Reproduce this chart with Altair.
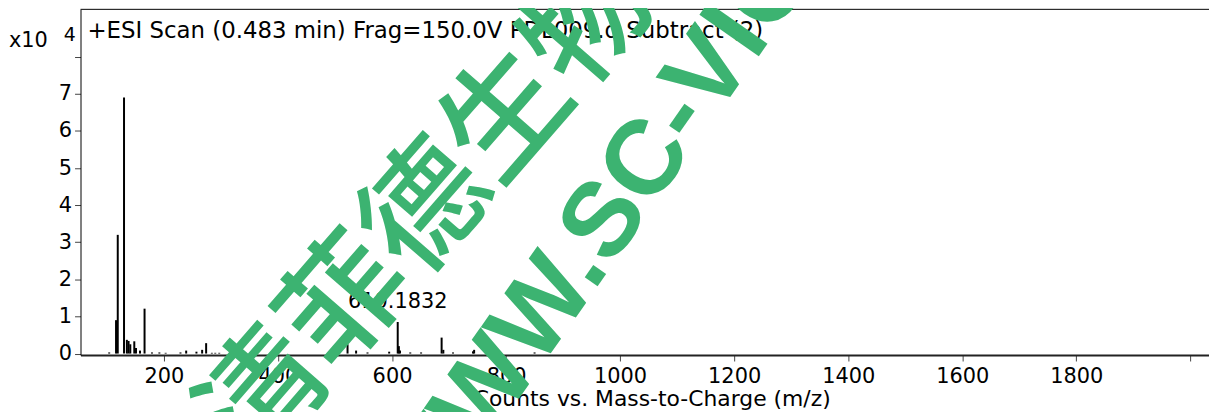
import altair as alt
import pandas as pd

# ---- data (m/z, counts x10^4) ----
mz = [104, 116, 119, 130, 135, 138, 141, 148, 151, 158, 166, 179, 192, 203,
      229, 239, 257, 267, 274, 284, 290, 297, 522, 537, 557, 595, 610, 612,
      614, 632, 651, 687, 690, 707, 742, 744, 778, 850]
counts = [0.03, 0.9, 3.2, 6.9, 0.37, 0.34, 0.25, 0.33, 0.15, 0.08, 1.21, 0.03,
          0.03, 0.02, 0.03, 0.08, 0.05, 0.1, 0.28, 0.02, 0.02, 0.02, 0.25, 0.08,
          0.03, 0.05, 0.85, 0.2, 0.08, 0.03, 0.03, 0.43, 0.1, 0.03, 0.06, 0.1,
          0.03, 0.03]

x_ticks = [200, 400, 600, 800, 1000, 1200, 1400, 1600, 1800, 2000]
y_ticks = [0, 1, 2, 3, 4, 5, 6, 7, 8]

ann_mz = [610]
ann_y = [1.4]
ann_text = ["610.1832"]

title_text = ["+ESI Scan (0.483 min) Frag=150.0V PDL009.d  Subtract (2)"]

wm_cn_text = ["清菲德生物"]
wm_cn_mz = [665]
wm_cn_y = [3.85]
wm_en_text = ["WWW.SC-VIO"]
wm_en_mz = [958]
wm_en_y = [3.25]

# ---- layout ----
W, H = 1136, 348
X_MIN, X_MAX = 53.7, 2032.8
Y_MIN, Y_MAX = -0.04, 9.28
FONT = "DejaVu Sans"
FS = 21
GREEN = "#3cb371"

x_scale = alt.Scale(domain=[X_MIN, X_MAX], nice=False, zero=False)
y_scale = alt.Scale(domain=[Y_MIN, Y_MAX], nice=False, zero=False)

peaks = pd.DataFrame({"mz": mz, "counts": counts})

bars = alt.Chart(peaks).mark_rule(color="black", strokeWidth=2).encode(
    x=alt.X("mz:Q", scale=x_scale,
            axis=alt.Axis(values=x_ticks, format="d",
                          labelExpr="datum.value >= 2000 ? '' : datum.label",
                          title="Counts vs. Mass-to-Charge (m/z)",
                          titleX=575, titlePadding=2, titleFontSize=22,
                          tickSize=6, labelPadding=5, grid=False,
                          domainColor="#222", domainWidth=2,
                          tickColor="#444")),
    y=alt.Y("counts:Q", scale=y_scale,
            axis=alt.Axis(values=y_ticks, format="d",
                          labelExpr="datum.value >= 8 ? '' : datum.label",
                          title=None, tickSize=6, labelPadding=3, grid=False,
                          domainColor="black", tickColor="#444")),
    y2=alt.datum(0),
)

ann = alt.Chart(pd.DataFrame({"mz": ann_mz, "y": ann_y, "t": ann_text})).mark_text(
    font=FONT, fontSize=FS, color="black", baseline="middle", align="center"
).encode(x=alt.X("mz:Q", scale=x_scale), y=alt.Y("y:Q", scale=y_scale), text="t:N")

title = alt.Chart(pd.DataFrame({"t": title_text})).mark_text(
    font=FONT, fontSize=23, color="black", baseline="middle", align="left"
).encode(x=alt.value(7), y=alt.value(22), text="t:N")

exp_base = alt.Chart(pd.DataFrame({"t": ["x10"]})).mark_text(
    font=FONT, fontSize=FS, color="black", baseline="middle", align="left"
).encode(x=alt.value(-72), y=alt.value(32), text="t:N")

exp_pow = alt.Chart(pd.DataFrame({"t": ["4"]})).mark_text(
    font=FONT, fontSize=19, color="black", baseline="middle", align="left"
).encode(x=alt.value(-17), y=alt.value(26), text="t:N")

top_border = alt.Chart(pd.DataFrame({"a": [0]})).mark_rule(color="black", strokeWidth=1).encode(
    x=alt.value(0), x2=alt.value(W), y=alt.value(0))

wm_cn = alt.Chart(pd.DataFrame({"mz": wm_cn_mz, "y": wm_cn_y, "t": wm_cn_text})).mark_text(
    font="Noto Sans CJK SC", fontSize=124, fontWeight=500, color=GREEN,
    angle=311, baseline="middle", align="center"
).encode(x=alt.X("mz:Q", scale=x_scale), y=alt.Y("y:Q", scale=y_scale), text="t:N")

wm_en = alt.Chart(pd.DataFrame({"mz": wm_en_mz, "y": wm_en_y, "t": wm_en_text})).mark_text(
    font="Liberation Sans", fontSize=106, fontWeight="bold", color=GREEN,
    angle=305, baseline="middle", align="center"
).encode(x=alt.X("mz:Q", scale=x_scale), y=alt.Y("y:Q", scale=y_scale), text="t:N")

chart = alt.layer(bars, ann, title, exp_base, exp_pow, top_border, wm_cn, wm_en).properties(
    width=W, height=H,
    autosize=alt.AutoSizeParams(type="none"),
    padding={"left": 73, "top": 0, "right": 0, "bottom": 56},
).configure_view(stroke=None).configure_axis(
    labelFont=FONT, labelFontSize=FS, labelColor="black",
    titleFont=FONT, titleFontSize=FS, titleColor="black", titleFontWeight="normal",
)

chart.save("out.html", embed_options={"renderer": "svg", "actions": False})
